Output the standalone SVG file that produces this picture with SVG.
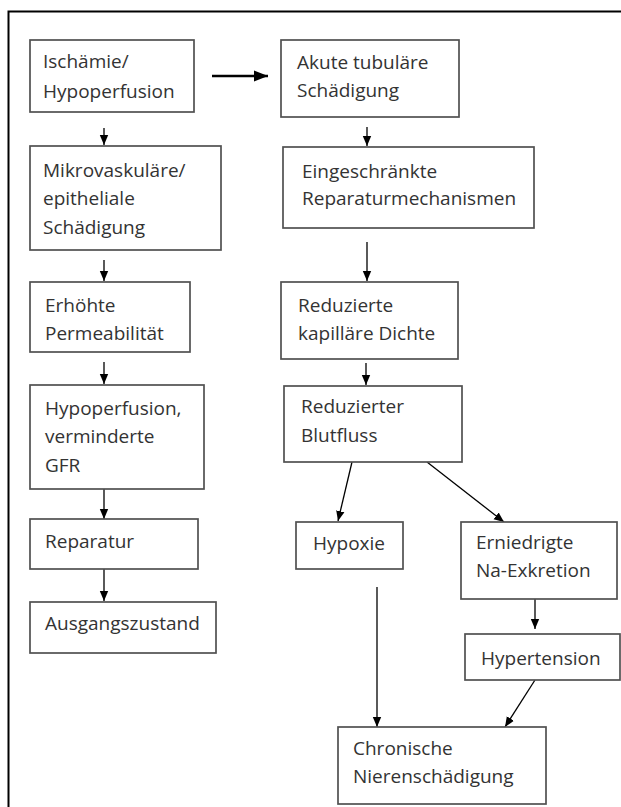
<svg xmlns="http://www.w3.org/2000/svg" width="621" height="807" viewBox="0 0 621 807">
<style>
.box{fill:#fff;stroke:#505050;stroke-width:1.7}
.t{font-family:"Open Sans","Liberation Sans",sans-serif;font-size:19px;fill:#333}
.c{stroke:#000;stroke-width:1.3;fill:none;marker-end:url(#ah)}
.cb{stroke:#000;stroke-width:2.6;fill:none;marker-end:url(#ahb)}
</style>
<defs>
<marker id="ah" markerUnits="userSpaceOnUse" markerWidth="10" markerHeight="10" viewBox="0 0 10 10" refX="10" refY="5" orient="auto"><path d="M0,0.8 L10,5 L0,9.2 Z" fill="#000"/></marker>
<marker id="ahb" markerUnits="userSpaceOnUse" markerWidth="14" markerHeight="12" viewBox="0 0 14 12" refX="14" refY="6" orient="auto"><path d="M0,0.5 L14,6 L0,11.5 Z" fill="#000"/></marker>
</defs>
<rect width="621" height="807" fill="#fff"/>
<path d="M8.5,807 V11.5 H621" fill="none" stroke="#000" stroke-width="2"/>

<g id="connectors">
<path class="cb" d="M212,76 H268"/>
<path class="c" d="M104,128 V145"/>
<path class="c" d="M104,260 V281"/>
<path class="c" d="M104,362 V384"/>
<path class="c" d="M104,489 V519"/>
<path class="c" d="M104,569 V601"/>
<path class="c" d="M367,127 V146"/>
<path class="c" d="M367,242 V281"/>
<path class="c" d="M366,363 V385"/>
<path class="c" d="M352,462 L338,521"/>
<path class="c" d="M427,462 L504,522"/>
<path class="c" d="M377,587 V727"/>
<path class="c" d="M535,599 V629"/>
<path class="c" d="M535,680 L505,727"/>
</g>

<g id="n1"><rect class="box" x="30" y="40" width="164" height="72"/><text class="t" x="43" y="68">Ischämie/</text><text class="t" x="43" y="98">Hypoperfusion</text></g>
<g id="n2"><rect class="box" x="30" y="146" width="191" height="104"/><text class="t" x="43" y="177">Mikrovaskuläre/</text><text class="t" x="43" y="205">epitheliale</text><text class="t" x="43" y="234">Schädigung</text></g>
<g id="n3"><rect class="box" x="30" y="282" width="160" height="70"/><text class="t" x="45" y="312">Erhöhte</text><text class="t" x="45" y="340">Permeabilität</text></g>
<g id="n4"><rect class="box" x="30" y="385" width="174" height="104"/><text class="t" x="45" y="415">Hypoperfusion,</text><text class="t" x="45" y="443">verminderte</text><text class="t" x="45" y="472">GFR</text></g>
<g id="n5"><rect class="box" x="30" y="519" width="168" height="50"/><text class="t" x="45" y="548">Reparatur</text></g>
<g id="n6"><rect class="box" x="30" y="602" width="186" height="51"/><text class="t" x="45" y="630">Ausgangszustand</text></g>

<g id="n7"><rect class="box" x="281" y="40" width="178" height="77"/><text class="t" x="297" y="69">Akute tubuläre</text><text class="t" x="297" y="97">Schädigung</text></g>
<g id="n8"><rect class="box" x="283" y="147" width="251" height="81"/><text class="t" x="302" y="178">Eingeschränkte</text><text class="t" x="302" y="205">Reparaturmechanismen</text></g>
<g id="n9"><rect class="box" x="281" y="282" width="177" height="77"/><text class="t" x="298" y="312">Reduzierte</text><text class="t" x="298" y="340">kapilläre Dichte</text></g>
<g id="n10"><rect class="box" x="284" y="386" width="178" height="76"/><text class="t" x="301" y="413">Reduzierter</text><text class="t" x="301" y="442">Blutfluss</text></g>
<g id="n11"><rect class="box" x="296" y="522" width="107" height="47"/><text class="t" x="313" y="550">Hypoxie</text></g>
<g id="n12"><rect class="box" x="461" y="522" width="156" height="77"/><text class="t" x="476" y="549">Erniedrigte</text><text class="t" x="476" y="577">Na-Exkretion</text></g>
<g id="n13"><rect class="box" x="465" y="634" width="155" height="46"/><text class="t" x="481" y="665">Hypertension</text></g>
<g id="n14"><rect class="box" x="338" y="727" width="208" height="77"/><text class="t" x="353" y="755">Chronische</text><text class="t" x="353" y="783">Nierenschädigung</text></g>
</svg>
